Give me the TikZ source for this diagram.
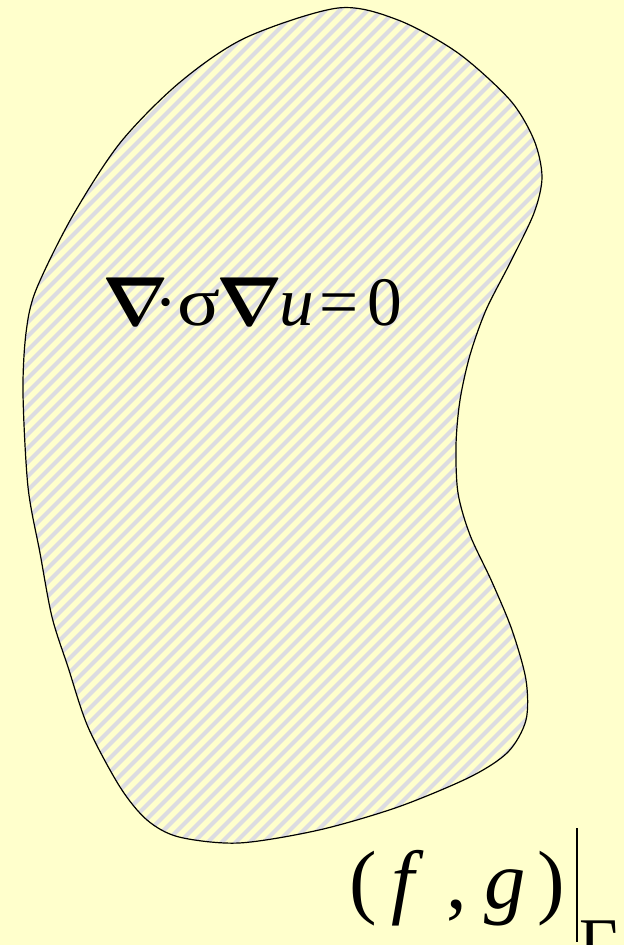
\documentclass[tikz,border=0pt]{standalone}
\usepackage{graphicx}
\usepackage{fontspec}
\setmainfont{Liberation Serif}
\definecolor{paper}{RGB}{255,255,204}
\definecolor{hatch}{RGB}{220,220,225}
\newcommand\nab{\scalebox{5.2}{\normalsize\boldmath$\nabla$}}
\newcommand\sig{\scalebox{1.15}[1]{σ}}
\tikzset{
  region/.style={draw=black, line width=0.9pt},
  glyph/.style={inner sep=0pt, anchor=base},
}
\begin{document}
\begin{tikzpicture}[x=0.75pt,y=-0.75pt]
\fill[paper] (0,0) rectangle (624,945);
\useasboundingbox (0,0) rectangle (624,945);
\begin{scope}
\clip plot[smooth cycle] coordinates {(338,8) (398,20) (458,53) (510,100) (534,140) (542,177) (534,213) (510,263) (486,310) (470,355) (460,400) (456,445) (458,493) (470,535) (492,582) (512,630) (526,680) (526,720) (508,752) (470,777) (398,807) (319,830) (239,843) (179,837) (147,820) (120,787) (88,727) (68,667) (52,617) (40,553) (28,487) (23,393) (26,333) (36,290) (72,217) (120,143) (179,83) (245,38)};
\foreach \c in {0,14,...,1582}
  \draw[hatch, line width=3pt] (\c,0) -- (\c-945,945);
\end{scope}
\draw[region] plot[smooth cycle] coordinates {(338,8) (398,20) (458,53) (510,100) (534,140) (542,177) (534,213) (510,263) (486,310) (470,355) (460,400) (456,445) (458,493) (470,535) (492,582) (512,630) (526,680) (526,720) (508,752) (470,777) (398,807) (319,830) (239,843) (179,837) (147,820) (120,787) (88,727) (68,667) (52,617) (40,553) (28,487) (23,393) (26,333) (36,290) (72,217) (120,143) (179,83) (245,38)};
\foreach \g/\x [count=\i] in {{\nab}/136, {·}/166, {\sig}/199, {\nab}/250, {\textit{u}}/297, {=}/339, {0}/385}
  \node[glyph, font=\fontsize{52}{62}\selectfont] (pde\i) at (\x,325) {\g};
\foreach \g/\x [count=\i] in {{(}/363, {\textit{f}}/408, {,}/457, {\textit{g}}/505, {)}/551}
  \node[glyph, font=\fontsize{62}{72}\selectfont] (data\i) at (\x,908) {\g};
\draw[line width=1pt] (577,828) -- (577,942);
\node[glyph, font=\fontsize{50}{60}\selectfont] (bdry) at (599,964) {Γ};
\end{tikzpicture}
\end{document}
